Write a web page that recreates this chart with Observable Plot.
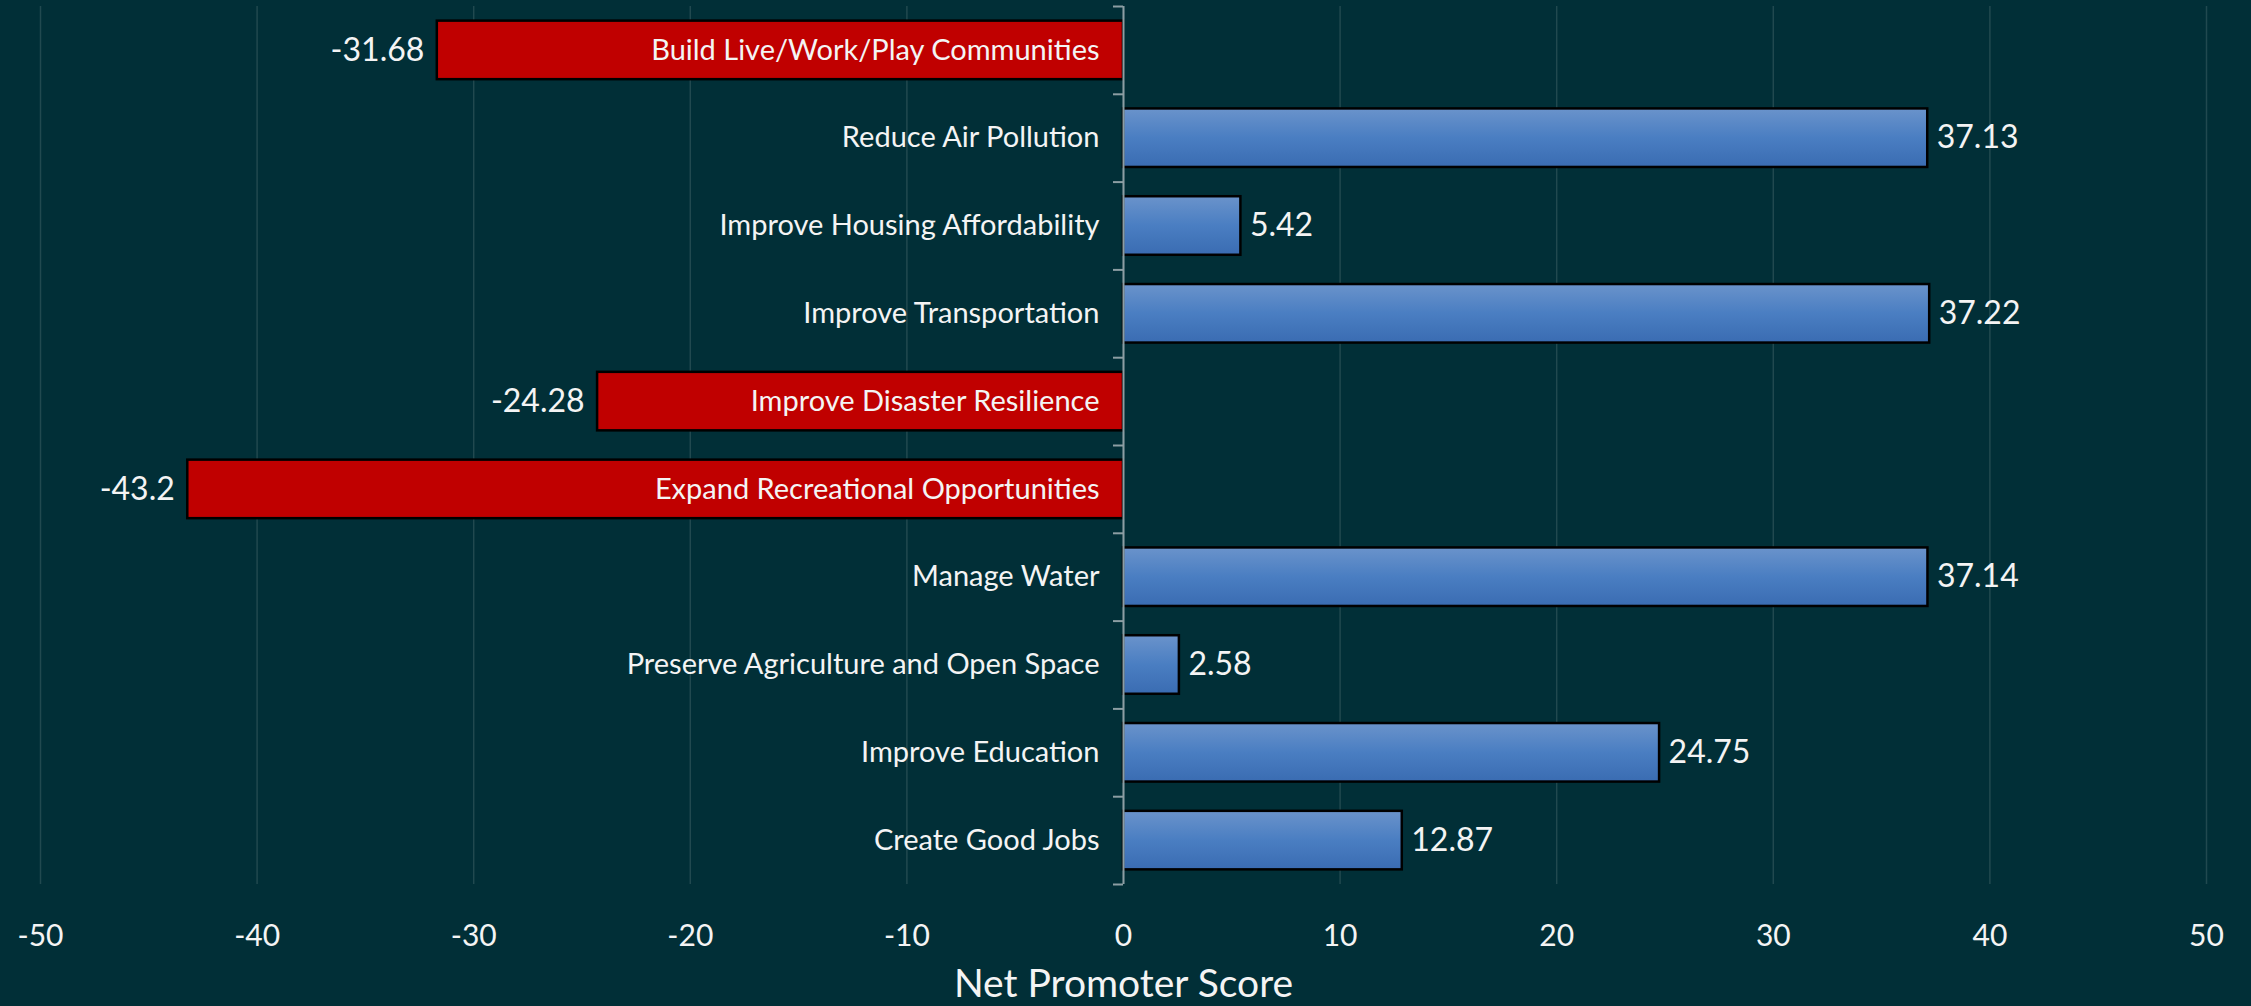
<!DOCTYPE html>
<html>
<head>
<meta charset="utf-8">
<script src="https://cdn.jsdelivr.net/npm/d3@7"></script>
<script src="https://cdn.jsdelivr.net/npm/@observablehq/plot@0.6"></script>
<style>
  html, body { margin: 0; padding: 0; background: #012f37; overflow: hidden; }
  #chart svg { display: block; }
</style>
</head>
<body>
<div id="chart"></div>
<script>
const categories = [
  "Build Live/Work/Play Communities",
  "Reduce Air Pollution",
  "Improve Housing Affordability",
  "Improve Transportation",
  "Improve Disaster Resilience",
  "Expand Recreational Opportunities",
  "Manage Water",
  "Preserve Agriculture and Open Space",
  "Improve Education",
  "Create Good Jobs"
];
const scores = [-31.68, 37.13, 5.42, 37.22, -24.28, -43.2, 37.14, 2.58, 24.75, 12.87];
const xTicks = [-50, -40, -30, -20, -10, 0, 10, 20, 30, 40, 50];
const xLabel = "Net Promoter Score";

const data = categories.map((c, i) => ({category: c, score: scores[i]}));

const W = 2251, H = 1006;
const mL = 40, mR = 45, mT = 6, mB = 122;
const step = (H - mT - mB) / categories.length;
const unitPx = (W - mL - mR) / (xTicks[xTicks.length - 1] - xTicks[0]);
const tickLen = 10 / unitPx;
const textColor = "#f4f4f4";

const defs = () => {
  const d = d3.create("svg:defs");
  const g = d.append("linearGradient").attr("id", "blueGrad")
    .attr("x1", 0).attr("y1", 0).attr("x2", 0).attr("y2", 1);
  g.append("stop").attr("offset", "0%").attr("stop-color", "#6a93cb");
  g.append("stop").attr("offset", "50%").attr("stop-color", "#4a7ec2");
  g.append("stop").attr("offset", "100%").attr("stop-color", "#3a6cb2");
  return d.node();
};

const chart = Plot.plot({
  width: W,
  height: H,
  marginLeft: mL,
  marginRight: mR,
  marginTop: mT,
  marginBottom: mB,
  style: {background: "#012f37", fontFamily: "Lato, 'Open Sans', sans-serif", color: textColor},
  x: {domain: [xTicks[0], xTicks[xTicks.length - 1]]},
  y: {domain: categories, paddingInner: 1/3, paddingOuter: 1/6, round: false, axis: null},
  marks: [
    defs,
    Plot.gridX(xTicks, {stroke: "#21494f", strokeOpacity: 1, strokeWidth: 1.5}),
    Plot.barX(data.filter(d => d.score >= 0), {x: "score", y: "category", fill: "url(#blueGrad)", stroke: "#000", strokeWidth: 2.5}),
    Plot.barX(data.filter(d => d.score < 0), {x: "score", y: "category", fill: "#c00000", stroke: "#000", strokeWidth: 2.5}),
    Plot.ruleX([0], {stroke: "#8c9ea3", strokeWidth: 2}),
    Plot.ruleY(categories, {y: d => d, x1: -tickLen, x2: 0, dy: -step / 2, stroke: "#8c9ea3", strokeWidth: 2}),
    Plot.ruleY(categories.slice(-1), {y: d => d, x1: -tickLen, x2: 0, dy: step / 2, stroke: "#8c9ea3", strokeWidth: 2}),
    Plot.text(data, {x: 0, y: "category", text: "category", textAnchor: "end", dx: -24, fill: textColor, fontSize: 29}),
    Plot.text(data.filter(d => d.score >= 0), {x: "score", y: "category", text: d => String(d.score), textAnchor: "start", dx: 9, fill: textColor, fontSize: 32}),
    Plot.text(data.filter(d => d.score < 0), {x: "score", y: "category", text: d => String(d.score), textAnchor: "end", dx: -13, fill: textColor, fontSize: 32}),
    Plot.axisX(xTicks, {tickSize: 0, tickPadding: 40, fontSize: 30, fill: textColor, tickFormat: d => String(d), label: null}),
    Plot.text([xLabel], {frameAnchor: "bottom", lineAnchor: "middle", text: d => d, dy: 100, fill: textColor, fontSize: 39})
  ]
});

document.getElementById("chart").appendChild(chart);
</script>
</body>
</html>
